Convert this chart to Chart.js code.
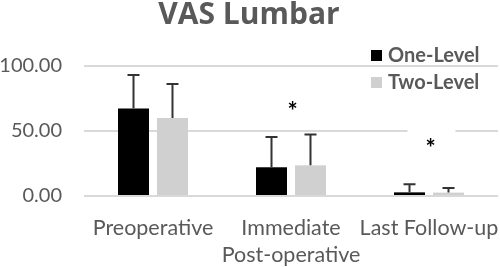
<!DOCTYPE html>
<html>
<head>
<meta charset="utf-8">
<script src="https://cdn.jsdelivr.net/npm/chart.js@4"></script>
<style>
  html, body { margin: 0; padding: 0; background: #ffffff; }
  #wrap { width: 500px; height: 267px; }
</style>
</head>
<body>
<div id="wrap"><canvas id="c" width="500" height="267"></canvas></div>
<script>
const categories = [['Preoperative'], ['Immediate', 'Post-operative'], ['Last Follow-up']];
const seriesNames = ['One-Level', 'Two-Level'];
const oneLevelMean = [67.4, 22.1, 2.8];
const oneLevelSD = [25.6, 23.3, 6.3];
const twoLevelMean = [60.0, 23.6, 2.6];
const twoLevelSD = [26.2, 23.8, 3.6];
const significance = ['', '*', '*'];
const yTicks = [0, 50, 100];

const TEXT = '#595959';
const FONT = 'Lato, "Open Sans", sans-serif';

const errorBarPlugin = {
  id: 'errorBars',
  afterDatasetsDraw(chart) {
    const ctx = chart.ctx;
    const y = chart.scales.y;
    chart.data.datasets.forEach((ds, di) => {
      const meta = chart.getDatasetMeta(di);
      meta.data.forEach((bar, i) => {
        const v = ds.data[i];
        const sd = ds.sd[i];
        const top = y.getPixelForValue(v + sd);
        ctx.save();
        ctx.strokeStyle = '#333333';
        ctx.lineWidth = 2;
        ctx.beginPath();
        ctx.moveTo(bar.x, bar.y);
        ctx.lineTo(bar.x, top);
        ctx.moveTo(bar.x - 6, top);
        ctx.lineTo(bar.x + 6, top);
        ctx.stroke();
        ctx.restore();
      });
    });
  }
};

const markPlugin = {
  id: 'sigMarks',
  afterDatasetsDraw(chart, args, opts) {
    const ctx = chart.ctx;
    const x = chart.scales.x;
    const y = chart.scales.y;
    significance.forEach((m, i) => {
      if (!m) return;
      const px = x.getPixelForValue(i) + 1.5;
      const py = y.getPixelForValue(opts.at[i]);
      ctx.save();
      ctx.fillStyle = '#ffffff';
      ctx.fillRect(px - 23, py - 12, 48, 24);
      ctx.fillStyle = '#000000';
      ctx.font = 'bold 24px ' + FONT;
      ctx.textAlign = 'center';
      ctx.textBaseline = 'middle';
      ctx.fillText(m, px, py + 7);
      ctx.restore();
    });
  }
};

const legendPlugin = {
  id: 'boxLegend',
  afterDraw(chart, args, opts) {
    const ctx = chart.ctx;
    chart.data.datasets.forEach((ds, i) => {
      const top = opts.y + i * opts.gap;
      ctx.save();
      ctx.fillStyle = ds.backgroundColor;
      ctx.fillRect(opts.x, top, 11, 11);
      ctx.fillStyle = TEXT;
      ctx.font = 'bold 20px ' + FONT;
      ctx.textAlign = 'left';
      ctx.textBaseline = 'middle';
      ctx.fillText(ds.label, opts.x + 17, top + 6);
      ctx.restore();
    });
  }
};

new Chart(document.getElementById('c'), {
  type: 'bar',
  data: {
    labels: categories,
    datasets: [
      { label: seriesNames[0], data: oneLevelMean, sd: oneLevelSD, backgroundColor: '#000000' },
      { label: seriesNames[1], data: twoLevelMean, sd: twoLevelSD, backgroundColor: '#d0d0d0' }
    ]
  },
  options: {
    responsive: false,
    animation: false,
    devicePixelRatio: 1,
    categoryPercentage: 0.565,
    barPercentage: 0.795,
    layout: { padding: { left: 0, right: 2, top: 0, bottom: 1 } },
    plugins: {
      legend: { display: false },
      tooltip: { enabled: false },
      title: {
        display: true,
        text: 'VAS Lumbar',
        color: TEXT,
        font: { family: '"Open Sans", Lato, sans-serif', size: 30, weight: 'bold', lineHeight: 1.0 },
        padding: { top: 0, bottom: 36 }
      },
      sigMarks: { at: [null, 70, 41.5] },
      boxLegend: { x: 371, y: 50, gap: 27 }
    },
    scales: {
      x: {
        afterFit(scale) {
          scale.height = 70;
          scale.paddingLeft = 0;
          scale.paddingRight = 0;
        },
        grid: { display: false, drawTicks: false },
        border: { display: false },
        ticks: {
          color: TEXT,
          font: { family: FONT, size: 21.5, lineHeight: 1.24 },
          padding: 19,
          maxRotation: 0,
          autoSkip: false
        }
      },
      y: {
        min: 0,
        max: 100,
        afterFit(scale) { scale.width = 84; },
        afterBuildTicks(scale) { scale.ticks = yTicks.map(v => ({ value: v })); },
        grid: { color: '#d9d9d9', lineWidth: 2, drawTicks: false },
        border: { display: false },
        ticks: {
          color: TEXT,
          font: { family: FONT, size: 20 },
          padding: 22,
          callback: v => Number(v).toFixed(2)
        }
      }
    }
  },
  plugins: [errorBarPlugin, markPlugin, legendPlugin]
});
</script>
</body>
</html>
